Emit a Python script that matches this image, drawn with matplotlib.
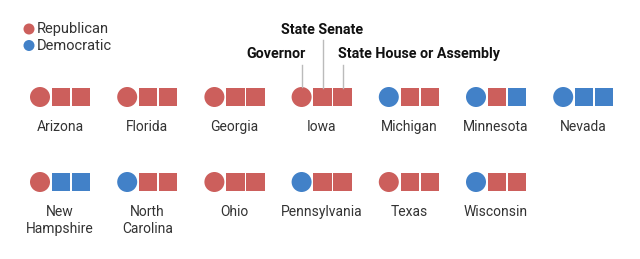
import matplotlib.pyplot as plt
from matplotlib.patches import Circle, Rectangle

# party control per state: governor, state senate, state house
states = ["Arizona", "Florida", "Georgia", "Iowa", "Michigan", "Minnesota", "Nevada",
          "New\nHampshire", "North\nCarolina", "Ohio", "Pennsylvania", "Texas", "Wisconsin"]
governor = ["R", "R", "R", "R", "D", "D", "D", "R", "D", "R", "D", "R", "D"]
senate = ["R", "R", "R", "R", "R", "R", "D", "D", "R", "R", "R", "R", "R"]
house = ["R", "R", "R", "R", "R", "D", "D", "D", "R", "R", "R", "R", "R"]

colors = {"R": "#CC5F5C", "D": "#4281C8"}
text_col = "#333333"
bold_font = ["Roboto", "DejaVu Sans"]

fig = plt.figure(figsize=(6.4, 2.59), dpi=100)
ax = fig.add_axes([0, 0, 1, 1])
ax.set_xlim(0, 640)
ax.set_ylim(259, 0)
ax.axis("off")

x0, dx = 40, 87.2
row_y = [97, 182]
r = 10
sq = 18.5

for i, name in enumerate(states):
    row, col = divmod(i, 7)
    cx = x0 + col * dx
    cy = row_y[row]
    ax.add_patch(Circle((cx, cy), r, color=colors[governor[i]], lw=0))
    ax.add_patch(Rectangle((cx + 21 - sq / 2, cy - sq / 2), sq, sq, color=colors[senate[i]], lw=0))
    ax.add_patch(Rectangle((cx + 41 - sq / 2, cy - sq / 2), sq, sq, color=colors[house[i]], lw=0))
    ax.text(cx + 20, cy + 23, name, ha="center", va="top", fontsize=10,
            family="Roboto", color=text_col, linespacing=1.3)

# legend
ax.add_patch(Circle((29, 29), 5.5, color=colors["R"], lw=0))
ax.add_patch(Circle((29, 45.5), 5.5, color=colors["D"], lw=0))
ax.text(37, 29, "Republican", va="center", fontsize=10.5, family="Roboto", color=text_col)
ax.text(37, 45.5, "Democratic", va="center", fontsize=10.5, family="Roboto", color=text_col)

# annotations on Iowa
ix = x0 + 3 * dx
line_col = "#BBBBBB"
ax.plot([ix, ix], [65, 87], color=line_col, lw=1)
ax.plot([ix + 21, ix + 21], [40, 88], color=line_col, lw=1)
ax.plot([ix + 41, ix + 41], [65, 88], color=line_col, lw=1)
ax.text(ix - 26, 54, "Governor", ha="center", va="center", fontsize=10.3,
        fontweight="bold", family=bold_font, color="#111111")
ax.text(ix + 20, 30, "State Senate", ha="center", va="center", fontsize=10.3,
        fontweight="bold", family=bold_font, color="#111111")
ax.text(ix + 36, 54, "State House or Assembly", ha="left", va="center", fontsize=10.3,
        fontweight="bold", family=bold_font, color="#111111")

fig.savefig("out.png", dpi=100)
